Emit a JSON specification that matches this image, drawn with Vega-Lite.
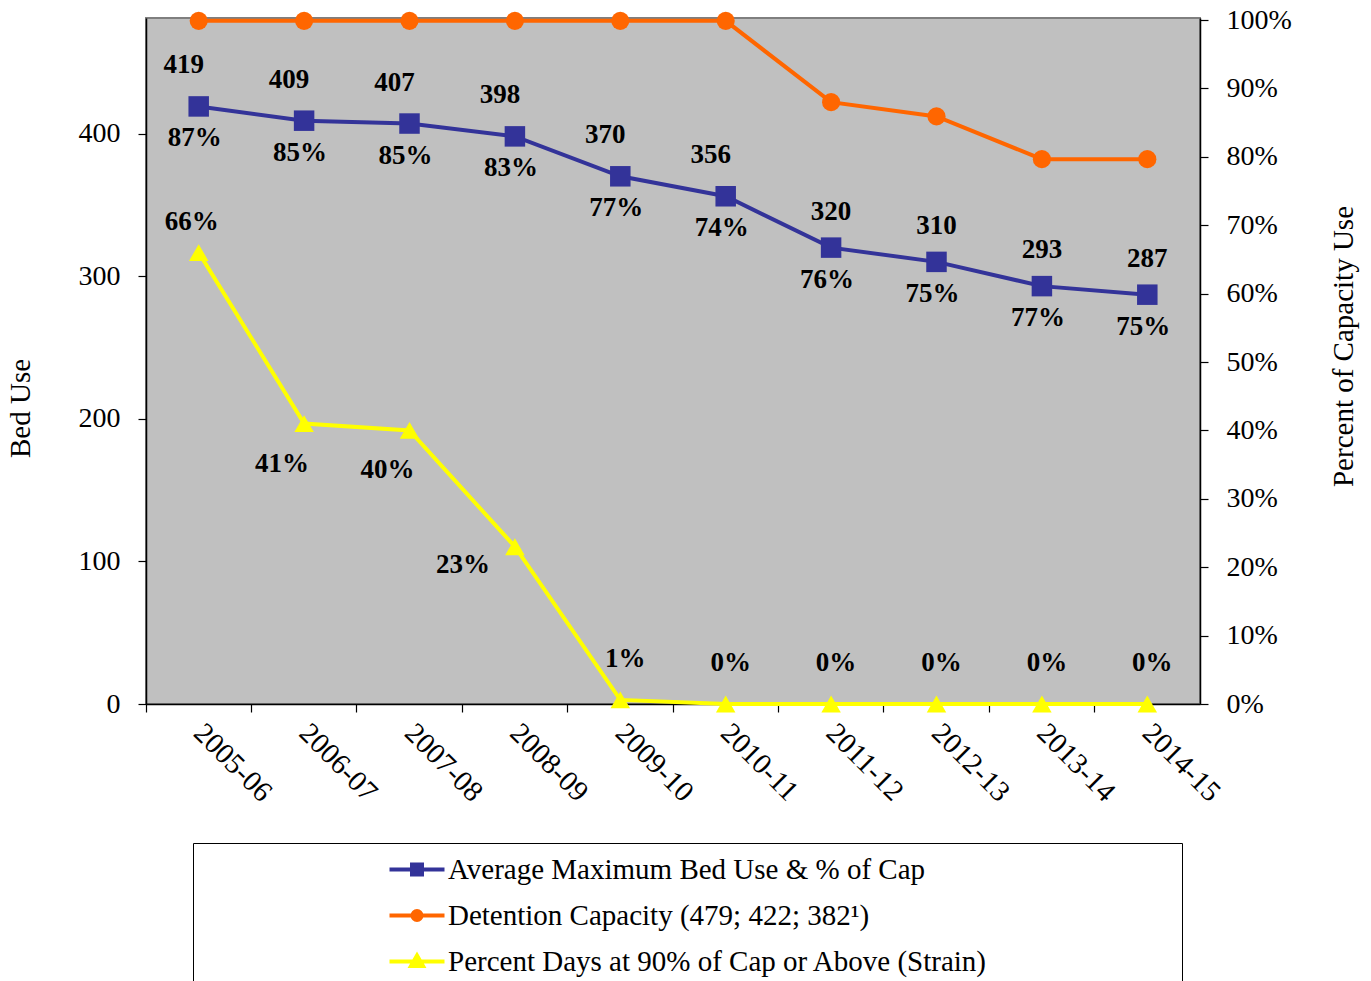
{
  "$schema": "https://vega.github.io/schema/vega-lite/v6.json",
  "width": 1054,
  "height": 686,
  "autosize": {"type": "none"},
  "padding": {"left": 146, "top": 18, "right": 171, "bottom": 277},
  "background": "white",
  "data": {
    "values": [
      {"year": "2005-06", "bed": 419, "pct": 0.87, "cap": 479, "strain": 0.66},
      {"year": "2006-07", "bed": 409, "pct": 0.85, "cap": 479, "strain": 0.41},
      {"year": "2007-08", "bed": 407, "pct": 0.85, "cap": 479, "strain": 0.40},
      {"year": "2008-09", "bed": 398, "pct": 0.83, "cap": 479, "strain": 0.23},
      {"year": "2009-10", "bed": 370, "pct": 0.77, "cap": 479, "strain": 0.006},
      {"year": "2010-11", "bed": 356, "pct": 0.74, "cap": 479, "strain": 0},
      {"year": "2011-12", "bed": 320, "pct": 0.76, "cap": 422, "strain": 0},
      {"year": "2012-13", "bed": 310, "pct": 0.75, "cap": 412, "strain": 0},
      {"year": "2013-14", "bed": 293, "pct": 0.77, "cap": 382, "strain": 0},
      {"year": "2014-15", "bed": 287, "pct": 0.75, "cap": 382, "strain": 0}
    ]
  },
  "encoding": {
    "x": {
      "field": "year",
      "type": "ordinal",
      "sort": null,
      "scale": {"type": "band", "paddingInner": 0, "paddingOuter": 0},
      "axis": {
        "title": null,
        "labelAngle": 45,
        "labelAlign": "left",
        "labelBaseline": "middle",
        "labelFont": "Liberation Serif",
        "labelFontSize": 29,
        "bandPosition": 0,
        "labelPadding": 16,
        "tickSize": 8
      }
    }
  },
  "layer": [
    {
      "layer": [
        {
          "mark": {"type": "line", "strokeWidth": 4},
          "encoding": {
            "y": {
              "field": "bed",
              "type": "quantitative",
              "scale": {"domain": [0, 481], "nice": false, "zero": true},
              "axis": {
                "title": "Bed Use",
                "values": [0, 100, 200, 300, 400],
                "titleAngle": -90,
                "titleX": -126,
                "titleY": 390,
                "titleAlign": "center",
                "titleBaseline": "middle",
                "labelPadding": 18,
                "tickSize": 8
              }
            },
            "color": {
              "datum": "Average Maximum Bed Use & % of Cap",
              "scale": {
                "domain": ["Average Maximum Bed Use & % of Cap", "Detention Capacity (479; 422; 382¹)", "Percent Days at 90% of Cap or Above (Strain)"],
                "range": ["#333399", "#ff6600", "#ffff00"]
              },
              "legend": {
                "title": ".",
                "titleColor": "white",
                "titleOrient": "right",
                "titleFontSize": 10,
                "titlePadding": 179,
                "encode": {
                  "symbols": {
                    "update": {
                      "shape": {"signal": "datum.value[0] == 'A' ? 'M-4.4,0H1.1M-2.15,-0.5H-1.15V0.5H-2.15Z' : datum.value[0] == 'D' ? 'M-4.4,0H1.1M-2.1,0A0.45,0.45,0,1,0,-1.2,0A0.45,0.45,0,1,0,-2.1,0Z' : 'M-4.4,0H1.1M-1.65,-0.6L-1.05,0.45H-2.25Z'"},
                      "fill": {"signal": "scale('color', datum.value)"},
                      "stroke": {"signal": "scale('color', datum.value)"},
                      "strokeWidth": {"value": 4},
                      "opacity": {"value": 1},
                      "fillOpacity": {"value": 1},
                      "strokeOpacity": {"value": 1}
                    }
                  }
                }
              }
            }
          }
        },
        {
          "mark": {"type": "point", "shape": "square", "filled": true, "size": 420, "color": "#333399", "opacity": 1},
          "encoding": {"y": {"field": "bed", "type": "quantitative"}}
        },
        {
          "mark": {"type": "line", "strokeWidth": 4},
          "encoding": {
            "y": {"field": "cap", "type": "quantitative"},
            "color": {"datum": "Detention Capacity (479; 422; 382¹)"}
          }
        },
        {
          "mark": {"type": "point", "shape": "circle", "filled": true, "size": 330, "color": "#ff6600", "opacity": 1},
          "encoding": {"y": {"field": "cap", "type": "quantitative"}}
        },
        {
          "transform": [{"filter": "datum.bed > 330"}],
          "mark": {"type": "text", "dx": -15, "dy": -41, "fontSize": 27, "fontWeight": "bold", "font": "Liberation Serif", "color": "black"},
          "encoding": {"y": {"field": "bed", "type": "quantitative"}, "text": {"field": "bed"}}
        },
        {
          "transform": [{"filter": "datum.bed <= 330"}],
          "mark": {"type": "text", "dx": 0, "dy": -36, "fontSize": 27, "fontWeight": "bold", "font": "Liberation Serif", "color": "black"},
          "encoding": {"y": {"field": "bed", "type": "quantitative"}, "text": {"field": "bed"}}
        },
        {
          "mark": {"type": "text", "dx": -4, "dy": 32, "fontSize": 27, "fontWeight": "bold", "font": "Liberation Serif", "color": "black"},
          "encoding": {"y": {"field": "bed", "type": "quantitative"}, "text": {"field": "pct", "format": ".0%"}}
        }
      ]
    },
    {
      "layer": [
        {
          "mark": {"type": "line", "strokeWidth": 4},
          "encoding": {
            "y": {
              "field": "strain",
              "type": "quantitative",
              "scale": {"domain": [0, 1.003], "nice": false},
              "axis": {
                "orient": "right",
                "title": "Percent of Capacity Use",
                "values": [0, 0.1, 0.2, 0.3, 0.4, 0.5, 0.6, 0.7, 0.8, 0.9, 1],
                "format": ".0%",
                "titleAngle": -90,
                "titleX": 143,
                "titleY": 328,
                "titleAlign": "center",
                "titleBaseline": "middle",
                "labelPadding": 18,
                "tickSize": 8
              }
            },
            "color": {"datum": "Percent Days at 90% of Cap or Above (Strain)"}
          }
        },
        {
          "mark": {"type": "point", "shape": "triangle-up", "filled": true, "size": 380, "color": "#ffff00", "opacity": 1},
          "encoding": {"y": {"field": "strain", "type": "quantitative"}}
        },
        {
          "transform": [{"filter": "datum.strain > 0.5"}],
          "mark": {"type": "text", "dx": -7, "dy": -31, "fontSize": 27, "fontWeight": "bold", "font": "Liberation Serif", "color": "black"},
          "encoding": {"y": {"field": "strain", "type": "quantitative"}, "text": {"field": "strain", "format": ".0%"}}
        },
        {
          "transform": [{"filter": "datum.strain > 0.3 && datum.strain <= 0.5"}],
          "mark": {"type": "text", "dx": -22, "dy": 40, "fontSize": 27, "fontWeight": "bold", "font": "Liberation Serif", "color": "black"},
          "encoding": {"y": {"field": "strain", "type": "quantitative"}, "text": {"field": "strain", "format": ".0%"}}
        },
        {
          "transform": [{"filter": "datum.strain > 0.1 && datum.strain <= 0.3"}],
          "mark": {"type": "text", "dx": -52, "dy": 18, "fontSize": 27, "fontWeight": "bold", "font": "Liberation Serif", "color": "black"},
          "encoding": {"y": {"field": "strain", "type": "quantitative"}, "text": {"field": "strain", "format": ".0%"}}
        },
        {
          "transform": [{"filter": "datum.strain <= 0.1"}],
          "mark": {"type": "text", "dx": 5, "dy": -41, "fontSize": 27, "fontWeight": "bold", "font": "Liberation Serif", "color": "black"},
          "encoding": {"y": {"field": "strain", "type": "quantitative"}, "text": {"field": "strain", "format": ".0%"}}
        }
      ]
    }
  ],
  "resolve": {"scale": {"y": "independent"}},
  "config": {
    "font": "Liberation Serif",
    "view": {"fill": "#c0c0c0", "stroke": "#7f7f7f", "strokeWidth": 2},
    "axis": {
      "labelFont": "Liberation Serif",
      "labelFontSize": 28,
      "labelColor": "black",
      "titleFont": "Liberation Serif",
      "titleFontSize": 29,
      "titleFontWeight": "normal",
      "titleColor": "black",
      "domainColor": "black",
      "domainWidth": 1.5,
      "tickColor": "black",
      "tickWidth": 1.2,
      "grid": false
    },
    "legend": {
      "orient": "none",
      "legendX": 47,
      "legendY": 825,
      "direction": "vertical",
      "labelFont": "Liberation Serif",
      "labelFontSize": 29,
      "labelColor": "black",
      "labelLimit": 1000,
      "labelOffset": 0,
      "symbolSize": 400,
      "symbolOffset": 214,
      "symbolStrokeWidth": 4,
      "rowPadding": 16,
      "padding": 12,
      "strokeColor": "black",
      "fillColor": "white",
      "cornerRadius": 0
    }
  }
}
